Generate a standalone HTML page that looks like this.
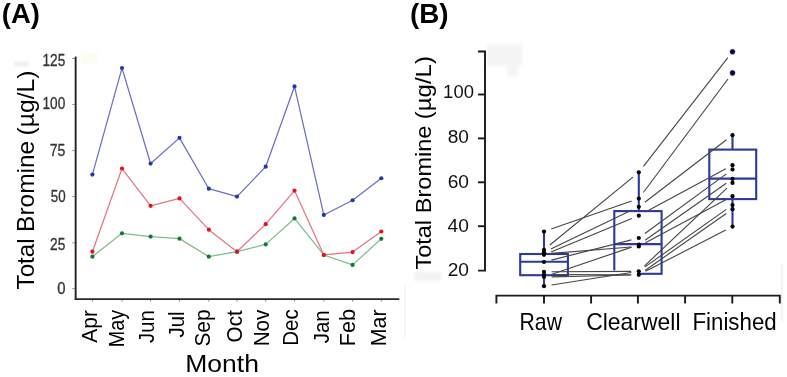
<!DOCTYPE html>
<html><head><meta charset="utf-8"><style>
html,body{margin:0;padding:0;background:#fff;}
body{width:787px;height:377px;overflow:hidden;}
svg{display:block;font-family:"Liberation Sans", sans-serif;will-change:transform;}
</style></head><body>
<svg width="787" height="377" viewBox="0 0 787 377">
<rect width="787" height="377" fill="#fff"/>
<rect x="14" y="61.6" width="15.2" height="4.7" fill="#eeeeee" filter="url(#bl)"/>
<defs><filter id="bl" x="-20%" y="-20%" width="140%" height="140%"><feGaussianBlur stdDeviation="1.6"/></filter></defs>
<path d="M487,44.5 H522 V66 H518 V76.5 H507 V66 H487 Z" fill="#f4f4f4" filter="url(#bl)"/>
<rect x="414.3" y="272" width="27" height="8.6" fill="#f4f1f1" filter="url(#bl)"/>
<rect x="781.1" y="264.3" width="1.6" height="57.3" fill="#f1f1f1"/>
<rect x="404.2" y="284.5" width="1.4" height="54" fill="#f3f3f3"/>
<rect x="81" y="52.5" width="17" height="11" fill="#fcfcf3" filter="url(#bl)"/>
<line x1="75.65" y1="56.6" x2="75.65" y2="299.9" stroke="#222" stroke-width="1.9"/>
<line x1="74.7" y1="299.1" x2="399.3" y2="299.1" stroke="#2a2a2a" stroke-width="1.8"/>
<line x1="72.4" y1="58.50" x2="75" y2="58.50" stroke="#888" stroke-width="1"/>
<line x1="72.4" y1="104.50" x2="75" y2="104.50" stroke="#888" stroke-width="1"/>
<line x1="72.4" y1="150.60" x2="75" y2="150.60" stroke="#888" stroke-width="1"/>
<line x1="72.4" y1="196.60" x2="75" y2="196.60" stroke="#888" stroke-width="1"/>
<line x1="72.4" y1="242.90" x2="75" y2="242.90" stroke="#888" stroke-width="1"/>
<line x1="72.4" y1="288.60" x2="75" y2="288.60" stroke="#888" stroke-width="1"/>
<text transform="translate(42.53,65.74) scale(0.8482,1)" font-size="16.10" font-weight="400" fill="#333" stroke="#333" stroke-width="0.3">125</text>
<text transform="translate(42.53,109.24) scale(0.8468,1)" font-size="16.10" font-weight="400" fill="#333" stroke="#333" stroke-width="0.3">100</text>
<text transform="translate(49.71,155.74) scale(0.8729,1)" font-size="16.10" font-weight="400" fill="#333" stroke="#333" stroke-width="0.3">75</text>
<text transform="translate(50.72,201.74) scale(0.8302,1)" font-size="16.10" font-weight="400" fill="#333" stroke="#333" stroke-width="0.3">50</text>
<text transform="translate(50.06,249.74) scale(0.8525,1)" font-size="16.10" font-weight="400" fill="#333" stroke="#333" stroke-width="0.3">25</text>
<text transform="translate(57.36,293.74) scale(0.9235,1)" font-size="16.10" font-weight="400" fill="#333" stroke="#333" stroke-width="0.3">0</text>
<line x1="92.40" y1="299.9" x2="92.40" y2="301.5" stroke="#808080" stroke-width="1"/>
<line x1="122.00" y1="299.9" x2="122.00" y2="301.5" stroke="#808080" stroke-width="1"/>
<line x1="150.60" y1="299.9" x2="150.60" y2="301.5" stroke="#808080" stroke-width="1"/>
<line x1="179.50" y1="299.9" x2="179.50" y2="301.5" stroke="#808080" stroke-width="1"/>
<line x1="208.80" y1="299.9" x2="208.80" y2="301.5" stroke="#808080" stroke-width="1"/>
<line x1="237.00" y1="299.9" x2="237.00" y2="301.5" stroke="#808080" stroke-width="1"/>
<line x1="265.70" y1="299.9" x2="265.70" y2="301.5" stroke="#808080" stroke-width="1"/>
<line x1="294.50" y1="299.9" x2="294.50" y2="301.5" stroke="#808080" stroke-width="1"/>
<line x1="323.80" y1="299.9" x2="323.80" y2="301.5" stroke="#808080" stroke-width="1"/>
<line x1="352.60" y1="299.9" x2="352.60" y2="301.5" stroke="#808080" stroke-width="1"/>
<line x1="381.30" y1="299.9" x2="381.30" y2="301.5" stroke="#808080" stroke-width="1"/>
<polyline points="92.40,256.64 122.00,233.32 150.60,236.62 179.50,238.64 208.80,256.64 237.00,251.68 265.70,244.34 294.50,218.45 323.80,254.98 352.60,264.90 381.30,238.83" fill="none" stroke="#80bd8b" stroke-width="1.25" stroke-linejoin="round"/>
<circle cx="92.40" cy="256.64" r="2.1" fill="#0f7a32"/>
<circle cx="122.00" cy="233.32" r="2.1" fill="#0f7a32"/>
<circle cx="150.60" cy="236.62" r="2.1" fill="#0f7a32"/>
<circle cx="179.50" cy="238.64" r="2.1" fill="#0f7a32"/>
<circle cx="208.80" cy="256.64" r="2.1" fill="#0f7a32"/>
<circle cx="237.00" cy="251.68" r="2.1" fill="#0f7a32"/>
<circle cx="265.70" cy="244.34" r="2.1" fill="#0f7a32"/>
<circle cx="294.50" cy="218.45" r="2.1" fill="#0f7a32"/>
<circle cx="323.80" cy="254.98" r="2.1" fill="#0f7a32"/>
<circle cx="352.60" cy="264.90" r="2.1" fill="#0f7a32"/>
<circle cx="381.30" cy="238.83" r="2.1" fill="#0f7a32"/>
<polyline points="92.40,251.68 122.00,168.51 150.60,205.78 179.50,198.44 208.80,229.65 237.00,251.68 265.70,224.14 294.50,190.54 323.80,254.98 352.60,252.05 381.30,231.48" fill="none" stroke="#e37684" stroke-width="1.25" stroke-linejoin="round"/>
<circle cx="92.40" cy="251.68" r="2.1" fill="#e8101a"/>
<circle cx="122.00" cy="168.51" r="2.1" fill="#e8101a"/>
<circle cx="150.60" cy="205.78" r="2.1" fill="#e8101a"/>
<circle cx="179.50" cy="198.44" r="2.1" fill="#e8101a"/>
<circle cx="208.80" cy="229.65" r="2.1" fill="#e8101a"/>
<circle cx="237.00" cy="251.68" r="2.1" fill="#e8101a"/>
<circle cx="265.70" cy="224.14" r="2.1" fill="#e8101a"/>
<circle cx="294.50" cy="190.54" r="2.1" fill="#e8101a"/>
<circle cx="323.80" cy="254.98" r="2.1" fill="#e8101a"/>
<circle cx="352.60" cy="252.05" r="2.1" fill="#e8101a"/>
<circle cx="381.30" cy="231.48" r="2.1" fill="#e8101a"/>
<polyline points="92.40,174.57 122.00,68.08 150.60,163.55 179.50,137.85 208.80,188.71 237.00,196.60 265.70,166.67 294.50,86.44 323.80,214.96 352.60,200.27 381.30,178.24" fill="none" stroke="#6a6ecd" stroke-width="1.25" stroke-linejoin="round"/>
<circle cx="92.40" cy="174.57" r="2.1" fill="#2438a8"/>
<circle cx="122.00" cy="68.08" r="2.1" fill="#2438a8"/>
<circle cx="150.60" cy="163.55" r="2.1" fill="#2438a8"/>
<circle cx="179.50" cy="137.85" r="2.1" fill="#2438a8"/>
<circle cx="208.80" cy="188.71" r="2.1" fill="#2438a8"/>
<circle cx="237.00" cy="196.60" r="2.1" fill="#2438a8"/>
<circle cx="265.70" cy="166.67" r="2.1" fill="#2438a8"/>
<circle cx="294.50" cy="86.44" r="2.1" fill="#2438a8"/>
<circle cx="323.80" cy="214.96" r="2.1" fill="#2438a8"/>
<circle cx="352.60" cy="200.27" r="2.1" fill="#2438a8"/>
<circle cx="381.30" cy="178.24" r="2.1" fill="#2438a8"/>
<text transform="translate(97.10,342.65) rotate(-90) scale(0.9786,1)" font-size="21.40" font-weight="400" fill="#000">Apr</text>
<text transform="translate(123.90,347.13) rotate(-90) scale(0.9242,1)" font-size="21.40" font-weight="400" fill="#000">May</text>
<text transform="translate(153.50,342.90) rotate(-90) scale(0.9453,1)" font-size="21.40" font-weight="400" fill="#000">Jun</text>
<text transform="translate(183.90,337.51) rotate(-90) scale(0.9521,1)" font-size="21.40" font-weight="400" fill="#000">Jul</text>
<text transform="translate(209.70,346.54) rotate(-90) scale(0.9719,1)" font-size="21.40" font-weight="400" fill="#000">Sep</text>
<text transform="translate(241.90,342.38) rotate(-90) scale(0.9657,1)" font-size="21.40" font-weight="400" fill="#000">Oct</text>
<text transform="translate(269.10,346.30) rotate(-90) scale(0.9608,1)" font-size="21.40" font-weight="400" fill="#000">Nov</text>
<text transform="translate(298.30,345.79) rotate(-90) scale(0.9598,1)" font-size="21.40" font-weight="400" fill="#000">Dec</text>
<text transform="translate(329.10,343.21) rotate(-90) scale(0.9544,1)" font-size="21.40" font-weight="400" fill="#000">Jan</text>
<text transform="translate(354.70,346.19) rotate(-90) scale(1.0121,1)" font-size="21.40" font-weight="400" fill="#000">Feb</text>
<text transform="translate(385.60,346.16) rotate(-90) scale(0.9965,1)" font-size="21.40" font-weight="400" fill="#000">Mar</text>
<text transform="translate(185.21,371.90) scale(1.1331,1)" font-size="23.40" font-weight="400" fill="#000">Month</text>
<text transform="translate(33.60,289.45) rotate(-90) scale(1.0223,1)" font-size="23.70" font-weight="400" fill="#000">Total</text>
<text transform="translate(33.60,231.92) rotate(-90) scale(1.0333,1)" font-size="23.70" font-weight="400" fill="#000">Bromine</text>
<text transform="translate(33.60,135.44) rotate(-90) scale(1.0416,1)" font-size="23.70" font-weight="400" fill="#000">(µg/L)</text>
<text transform="translate(1.83,23.20) scale(0.9970,1)" font-size="27.50" font-weight="700" fill="#000">(A)</text>
<text transform="translate(409.91,23.20) scale(1.0111,1)" font-size="27.50" font-weight="700" fill="#000">(B)</text>
<text transform="translate(431.30,269.53) rotate(-90) scale(1.0579,1)" font-size="22.20" font-weight="400" fill="#000">Total</text>
<text transform="translate(431.30,213.14) rotate(-90) scale(1.0593,1)" font-size="22.20" font-weight="400" fill="#000">Bromine</text>
<text transform="translate(431.30,119.20) rotate(-90) scale(1.0796,1)" font-size="22.20" font-weight="400" fill="#000">(µg/L)</text>
<path d="M478,51.5 H485 V270.6 H478" fill="none" stroke="#1a1a1a" stroke-width="1.9"/>
<line x1="478" y1="226.20" x2="485" y2="226.20" stroke="#1a1a1a" stroke-width="1.9"/>
<line x1="478" y1="182.30" x2="485" y2="182.30" stroke="#1a1a1a" stroke-width="1.9"/>
<line x1="478" y1="138.40" x2="485" y2="138.40" stroke="#1a1a1a" stroke-width="1.9"/>
<line x1="478" y1="94.50" x2="485" y2="94.50" stroke="#1a1a1a" stroke-width="1.9"/>
<text transform="translate(443.12,98.01) scale(0.9870,1)" font-size="18.70" font-weight="400" fill="#111">100</text>
<text transform="translate(447.69,143.01) scale(1.0228,1)" font-size="18.70" font-weight="400" fill="#111">80</text>
<text transform="translate(447.64,187.61) scale(1.0251,1)" font-size="18.70" font-weight="400" fill="#111">60</text>
<text transform="translate(447.57,231.71) scale(1.0288,1)" font-size="18.70" font-weight="400" fill="#111">40</text>
<text transform="translate(447.64,276.21) scale(1.0251,1)" font-size="18.70" font-weight="400" fill="#111">20</text>
<path d="M496.4,303.5 V295.6 H779.8 V303.5 M544.0,295.6 V303.5 M591.1,295.6 V303.5 M637.9,295.6 V303.5 M685.1,295.6 V303.5 M732.3,295.6 V303.5" fill="none" stroke="#1a1a1a" stroke-width="1.9"/>
<text transform="translate(519.55,329.60) scale(0.9216,1)" font-size="23.00" font-weight="400" fill="#000">Raw</text>
<text transform="translate(586.15,329.80) scale(0.9980,1)" font-size="23.00" font-weight="400" fill="#000">Clearwell</text>
<text transform="translate(692.46,329.70) scale(0.9695,1)" font-size="23.00" font-weight="400" fill="#000">Finished</text>
<rect x="520.20" y="254.00" width="47.70" height="21.20" fill="none" stroke="#2a3a9e" stroke-width="2.1"/>
<line x1="520.20" y1="261.80" x2="567.90" y2="261.80" stroke="#2a3a9e" stroke-width="2.1"/>
<line x1="544.00" y1="231.50" x2="544.00" y2="254.00" stroke="#2a3a9e" stroke-width="2.1"/>
<line x1="544.00" y1="275.20" x2="544.00" y2="285.90" stroke="#2a3a9e" stroke-width="2.1"/>
<rect x="614.30" y="211.10" width="47.30" height="62.70" fill="none" stroke="#2a3a9e" stroke-width="2.1"/>
<line x1="614.30" y1="244.10" x2="661.60" y2="244.10" stroke="#2a3a9e" stroke-width="2.1"/>
<line x1="638.80" y1="172.30" x2="638.80" y2="211.10" stroke="#2a3a9e" stroke-width="2.1"/>
<line x1="638.80" y1="273.80" x2="638.80" y2="275.30" stroke="#2a3a9e" stroke-width="2.1"/>
<rect x="709.30" y="149.60" width="46.90" height="49.50" fill="none" stroke="#2a3a9e" stroke-width="2.1"/>
<line x1="709.30" y1="178.60" x2="756.20" y2="178.60" stroke="#2a3a9e" stroke-width="2.1"/>
<line x1="732.50" y1="135.20" x2="732.50" y2="149.60" stroke="#2a3a9e" stroke-width="2.1"/>
<line x1="732.50" y1="199.10" x2="732.50" y2="226.60" stroke="#2a3a9e" stroke-width="2.1"/>
<rect x="612.8" y="270.4" width="24.5" height="6" fill="#fff"/>
<line x1="549.88" y1="244.99" x2="632.92" y2="177.11" stroke="#464646" stroke-width="1.12"/>
<line x1="551.18" y1="229.01" x2="631.62" y2="201.09" stroke="#464646" stroke-width="1.12"/>
<line x1="550.85" y1="249.01" x2="631.95" y2="210.09" stroke="#464646" stroke-width="1.12"/>
<line x1="551.03" y1="251.90" x2="631.77" y2="218.60" stroke="#464646" stroke-width="1.12"/>
<line x1="551.37" y1="260.13" x2="631.43" y2="239.87" stroke="#464646" stroke-width="1.12"/>
<line x1="551.19" y1="274.55" x2="631.61" y2="247.15" stroke="#464646" stroke-width="1.12"/>
<line x1="551.58" y1="253.39" x2="631.22" y2="247.01" stroke="#464646" stroke-width="1.12"/>
<line x1="551.60" y1="271.76" x2="631.20" y2="271.34" stroke="#464646" stroke-width="1.12"/>
<line x1="551.60" y1="274.52" x2="631.20" y2="274.78" stroke="#464646" stroke-width="1.12"/>
<line x1="551.60" y1="276.82" x2="631.20" y2="274.98" stroke="#464646" stroke-width="1.12"/>
<line x1="551.51" y1="285.02" x2="631.29" y2="272.48" stroke="#464646" stroke-width="1.12"/>
<line x1="643.46" y1="166.30" x2="727.84" y2="57.70" stroke="#464646" stroke-width="1.12"/>
<line x1="643.34" y1="192.51" x2="727.96" y2="78.99" stroke="#464646" stroke-width="1.12"/>
<line x1="644.84" y1="202.19" x2="726.46" y2="139.81" stroke="#464646" stroke-width="1.12"/>
<line x1="645.49" y1="212.09" x2="725.81" y2="168.81" stroke="#464646" stroke-width="1.12"/>
<line x1="644.93" y1="233.51" x2="726.37" y2="173.89" stroke="#464646" stroke-width="1.12"/>
<line x1="645.02" y1="240.33" x2="726.28" y2="183.27" stroke="#464646" stroke-width="1.12"/>
<line x1="645.50" y1="242.81" x2="725.80" y2="199.79" stroke="#464646" stroke-width="1.12"/>
<line x1="644.33" y1="266.08" x2="726.97" y2="188.12" stroke="#464646" stroke-width="1.12"/>
<line x1="645.00" y1="266.91" x2="726.30" y2="209.39" stroke="#464646" stroke-width="1.12"/>
<line x1="645.03" y1="270.44" x2="726.27" y2="213.56" stroke="#464646" stroke-width="1.12"/>
<line x1="645.56" y1="271.32" x2="725.74" y2="230.08" stroke="#464646" stroke-width="1.12"/>
<circle cx="544.00" cy="231.50" r="2.1" fill="#000"/>
<circle cx="544.00" cy="249.80" r="2.1" fill="#000"/>
<circle cx="544.00" cy="252.30" r="2.1" fill="#000"/>
<circle cx="544.00" cy="254.80" r="2.1" fill="#000"/>
<circle cx="544.00" cy="262.00" r="2.1" fill="#000"/>
<circle cx="544.00" cy="271.80" r="2.1" fill="#000"/>
<circle cx="544.00" cy="274.50" r="2.1" fill="#000"/>
<circle cx="544.00" cy="277.00" r="2.1" fill="#000"/>
<circle cx="544.00" cy="286.20" r="2.1" fill="#000"/>
<circle cx="638.80" cy="172.30" r="2.1" fill="#000"/>
<circle cx="638.80" cy="198.60" r="2.1" fill="#000"/>
<circle cx="638.80" cy="206.80" r="2.1" fill="#000"/>
<circle cx="638.80" cy="215.70" r="2.1" fill="#000"/>
<circle cx="638.80" cy="238.00" r="2.1" fill="#000"/>
<circle cx="638.80" cy="244.70" r="2.1" fill="#000"/>
<circle cx="638.80" cy="246.40" r="2.1" fill="#000"/>
<circle cx="638.80" cy="271.30" r="2.1" fill="#000"/>
<circle cx="638.80" cy="274.80" r="2.1" fill="#000"/>
<circle cx="732.50" cy="51.70" r="2.55" fill="#0c0c3a" stroke="#3a3aa0" stroke-width="0.5"/>
<circle cx="732.50" cy="72.90" r="2.55" fill="#0c0c3a" stroke="#3a3aa0" stroke-width="0.5"/>
<circle cx="732.50" cy="135.20" r="2.1" fill="#000"/>
<circle cx="732.50" cy="165.20" r="2.1" fill="#000"/>
<circle cx="732.50" cy="169.40" r="2.1" fill="#000"/>
<circle cx="732.50" cy="178.90" r="2.1" fill="#000"/>
<circle cx="732.50" cy="182.90" r="2.1" fill="#000"/>
<circle cx="732.50" cy="196.20" r="2.1" fill="#000"/>
<circle cx="732.50" cy="205.00" r="2.1" fill="#000"/>
<circle cx="732.50" cy="209.20" r="2.1" fill="#000"/>
<circle cx="732.50" cy="226.60" r="2.1" fill="#000"/>
</svg>
</body></html>
